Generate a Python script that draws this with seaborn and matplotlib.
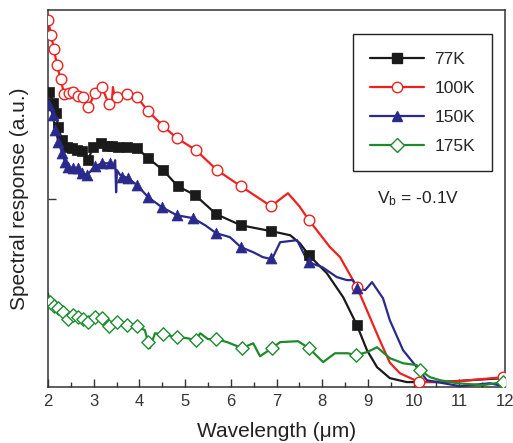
import numpy as np
import pandas as pd
import seaborn as sns
import matplotlib.pyplot as plt
from matplotlib.lines import Line2D
from matplotlib.ticker import MultipleLocator

sns.set_style('ticks')
plt.rcParams['font.family'] = ['Liberation Sans', 'DejaVu Sans']
plt.rcParams['mathtext.fontset'] = 'custom'
plt.rcParams['mathtext.rm'] = 'Liberation Sans'

# 77K
x_77 = [2.00, 2.02, 2.11, 2.18, 2.22, 2.31, 2.42, 2.53, 2.63, 2.74, 2.88, 2.98, 3.16, 3.29, 3.40, 3.53,
        3.73, 3.95, 4.19, 4.52, 4.84, 5.22, 5.68, 6.22, 6.88, 7.30, 7.51, 7.71, 8.10, 8.46, 8.76, 8.98,
        9.20, 9.48, 9.85, 10.58, 11.96]
y_77 = [1.576, 1.565, 1.507, 1.454, 1.379, 1.310, 1.273, 1.268, 1.257, 1.252, 1.204, 1.273, 1.294, 1.279,
        1.279, 1.273, 1.273, 1.268, 1.215, 1.151, 1.066, 1.019, 0.918, 0.859, 0.828, 0.806, 0.764, 0.700,
        0.605, 0.477, 0.329, 0.196, 0.106, 0.048, 0.027, 0.027, 0.048]
mx_77 = [2.02, 2.11, 2.18, 2.22, 2.31, 2.42, 2.53, 2.63, 2.74, 2.88, 2.98, 3.16, 3.29, 3.40, 3.53, 3.73,
         3.95, 4.19, 4.52, 4.84, 5.22, 5.68, 6.22, 6.88, 7.71, 8.76]
my_77 = [1.565, 1.507, 1.454, 1.379, 1.310, 1.273, 1.268, 1.257, 1.252, 1.204, 1.273, 1.294, 1.279, 1.279,
         1.273, 1.273, 1.268, 1.215, 1.151, 1.066, 1.019, 0.918, 0.859, 0.828, 0.700, 0.329]

# 100K
x_100 = [2.00, 2.07, 2.13, 2.20, 2.28, 2.35, 2.46, 2.55, 2.66, 2.77, 2.88, 3.03, 3.18, 3.33, 3.40, 3.42,
         3.47, 3.51, 3.73, 3.95, 4.19, 4.52, 4.82, 5.24, 5.70, 6.22, 6.88, 7.25, 7.50, 7.71, 8.17, 8.39,
         8.76, 9.26, 9.48, 9.70, 10.12, 11.00, 11.96]
y_100 = [1.947, 1.867, 1.793, 1.703, 1.634, 1.554, 1.560, 1.565, 1.544, 1.538, 1.485, 1.560, 1.592, 1.501,
         1.523, 1.592, 1.523, 1.538, 1.554, 1.538, 1.464, 1.385, 1.321, 1.257, 1.151, 1.066, 0.960, 1.029,
         0.960, 0.886, 0.743, 0.690, 0.531, 0.249, 0.130, 0.074, 0.027, 0.032, 0.053]
mx_100 = [2.00, 2.07, 2.13, 2.20, 2.28, 2.35, 2.46, 2.55, 2.66, 2.77, 2.88, 3.03, 3.18, 3.33, 3.51, 3.73,
          3.95, 4.19, 4.52, 4.82, 5.24, 5.70, 6.22, 6.88, 7.71, 8.76, 10.12, 11.96]
my_100 = [1.947, 1.867, 1.793, 1.708, 1.634, 1.554, 1.560, 1.565, 1.544, 1.538, 1.485, 1.560, 1.592, 1.501,
          1.538, 1.554, 1.538, 1.464, 1.385, 1.321, 1.257, 1.151, 1.066, 0.960, 0.886, 0.531, 0.027, 0.053]

# 150K
x_150 = [2.00, 2.07, 2.11, 2.15, 2.22, 2.31, 2.37, 2.44, 2.55, 2.66, 2.70, 2.74, 2.85, 3.03, 3.18, 3.36,
         3.42, 3.47, 3.49, 3.51, 3.58, 3.75, 3.95, 4.19, 4.49, 4.82, 5.17, 5.44, 5.68, 5.98, 6.22, 6.49,
         6.70, 6.90, 7.08, 7.45, 7.69, 8.00, 8.32, 8.54, 8.67, 8.76, 8.94, 9.09, 9.33, 9.48, 9.77, 10.07,
         10.29, 11.02, 11.67, 11.96]
y_150 = [1.507, 1.469, 1.443, 1.374, 1.310, 1.241, 1.194, 1.167, 1.162, 1.162, 1.109, 1.135, 1.125, 1.172,
         1.188, 1.188, 1.167, 1.204, 1.034, 1.151, 1.125, 1.109, 1.072, 1.008, 0.955, 0.912, 0.897, 0.859,
         0.817, 0.796, 0.743, 0.716, 0.690, 0.679, 0.769, 0.780, 0.663, 0.637, 0.584, 0.568, 0.568, 0.525,
         0.515, 0.557, 0.472, 0.355, 0.196, 0.106, 0.037, 0.005, 0.021, 0.005]
mx_150 = [2.02, 2.11, 2.15, 2.22, 2.31, 2.37, 2.44, 2.55, 2.66, 2.74, 2.85, 3.03, 3.18, 3.36, 3.62, 3.75,
          3.95, 4.19, 4.49, 4.82, 5.17, 5.68, 6.22, 6.88, 7.71, 8.76]
my_150 = [1.496, 1.443, 1.363, 1.300, 1.241, 1.194, 1.167, 1.162, 1.162, 1.135, 1.125, 1.172, 1.188, 1.188,
          1.114, 1.109, 1.072, 1.008, 0.955, 0.912, 0.897, 0.817, 0.743, 0.684, 0.663, 0.525]

# 175K
x_175 = [2.00, 2.04, 2.13, 2.22, 2.33, 2.44, 2.55, 2.66, 2.77, 2.88, 3.03, 3.18, 3.33, 3.51, 3.73, 3.95,
         4.12, 4.19, 4.23, 4.34, 4.52, 4.82, 5.04, 5.24, 5.33, 5.50, 5.68, 5.92, 6.25, 6.49, 6.64, 6.90,
         7.08, 7.47, 7.71, 8.02, 8.28, 8.56, 8.74, 8.98, 9.20, 9.48, 9.77, 10.07, 10.14, 10.36, 10.58,
         10.95, 11.52, 11.96]
y_175 = [0.499, 0.451, 0.430, 0.419, 0.398, 0.361, 0.382, 0.371, 0.361, 0.345, 0.371, 0.366, 0.324, 0.345,
         0.329, 0.324, 0.302, 0.239, 0.207, 0.286, 0.281, 0.265, 0.260, 0.249, 0.286, 0.255, 0.255, 0.239,
         0.207, 0.233, 0.164, 0.207, 0.239, 0.244, 0.207, 0.133, 0.180, 0.180, 0.170, 0.186, 0.212, 0.154,
         0.127, 0.117, 0.090, 0.053, 0.037, 0.021, 0.011, 0.027]
mx_175 = [2.04, 2.13, 2.22, 2.33, 2.44, 2.55, 2.66, 2.77, 2.88, 3.03, 3.18, 3.33, 3.51, 3.73, 3.95, 4.19,
          4.52, 4.82, 5.24, 5.68, 6.25, 6.90, 7.71, 8.74, 10.14, 11.96]
my_175 = [0.451, 0.430, 0.419, 0.398, 0.361, 0.382, 0.371, 0.361, 0.345, 0.371, 0.366, 0.324, 0.345, 0.329,
          0.324, 0.239, 0.281, 0.265, 0.249, 0.255, 0.207, 0.207, 0.207, 0.170, 0.090, 0.027]

labels = ['77K', '100K', '150K', '175K']
colors = ['#1a1a1a', '#f0201e', '#2a2a8c', '#1e8a2e']
markers = ['s', 'o', '^', 'D']
filled = [True, False, True, False]
sizes = [44, 58, 62, 46]

lines = [(x_77, y_77), (x_100, y_100), (x_150, y_150), (x_175, y_175)]
marks = [(mx_77, my_77), (mx_100, my_100), (mx_150, my_150), (mx_175, my_175)]

fig = plt.figure(figsize=(5.13, 4.43), dpi=100)
ax = fig.add_axes([0.0936, 0.126, 0.8908, 0.851])

for (lx, ly), (px, py), c, m, f, s in zip(lines, marks, colors, markers, filled, sizes):
    df = pd.DataFrame({'x': lx, 'y': ly})
    sns.lineplot(data=df, x='x', y='y', sort=False, estimator=None, color=c, lw=1.6, ax=ax)
    sns.scatterplot(x=px, y=py, marker=m, s=s, color=c if f else 'white',
                    edgecolor=c, linewidth=1.0 if not f else 0.5, ax=ax, zorder=3)

ax.set_xlim(2, 12)
ax.set_ylim(0, 2)
ax.xaxis.set_major_locator(MultipleLocator(1))
ax.xaxis.set_minor_locator(MultipleLocator(0.5))
ax.set_yticks([1])
ax.set_yticklabels([])
ax.tick_params(axis='x', which='major', direction='in', length=6, width=1, labelsize=12, pad=5, colors='#333333')
ax.tick_params(axis='x', which='minor', direction='in', length=3.5, width=1, colors='#333333')
ax.tick_params(axis='y', direction='in', length=6, width=1, colors='#333333')
for sp in ax.spines.values():
    sp.set_visible(True)
    sp.set_color('#333333')
    sp.set_linewidth(1.1)

ax.set_xlabel('Wavelength (μm)', fontsize=15, labelpad=9, color='#222222')
ax.set_ylabel('Spectral response (a.u.)', fontsize=15, labelpad=10, color='#222222')

ax.text(10.1, 1.0, r'$\mathregular{V_b}$ = -0.1V', ha='center', va='center', fontsize=12.5, color='#222222')

handles = [Line2D([], [], color=c, lw=1.6, marker=m, markersize=7.5,
                  markerfacecolor=c if f else 'white', markeredgecolor=c)
           for c, m, f in zip(colors, markers, filled)]
leg = ax.legend(handles, labels, loc='upper right', bbox_to_anchor=(0.972, 0.936), fontsize=12.5,
                frameon=True, fancybox=False, edgecolor='#222222', framealpha=1, numpoints=1,
                handlelength=3.1, handletextpad=0.6, labelspacing=0.8, borderpad=1.0, borderaxespad=0)
leg.get_frame().set_linewidth(1.0)

fig.savefig('out.png', dpi=100)
